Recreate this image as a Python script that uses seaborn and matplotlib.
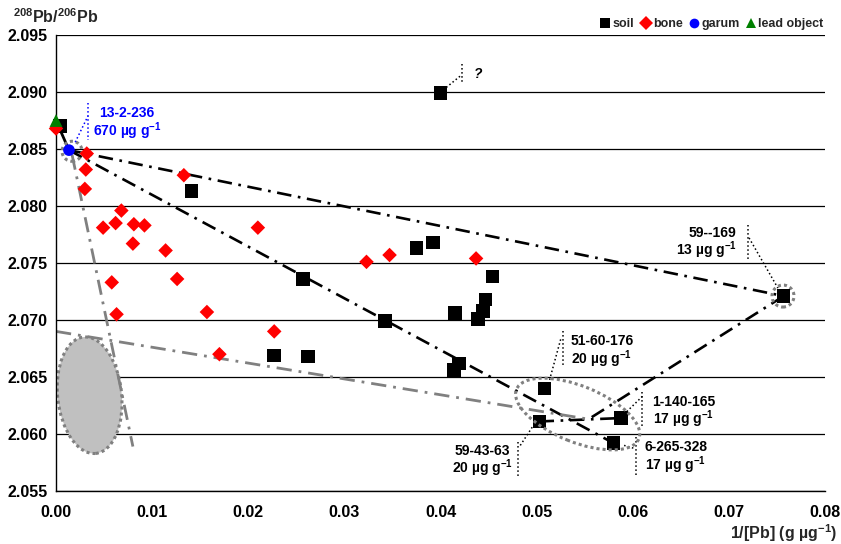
import numpy as np
import pandas as pd
import seaborn as sns
import matplotlib.pyplot as plt
from matplotlib.patches import Ellipse
from matplotlib.transforms import ScaledTranslation

# data
soil_x = [0.0004, 0.0400, 0.0141, 0.0257, 0.0227, 0.0262, 0.0342, 0.0375, 0.0392, 0.0415, 0.0454,
          0.0447, 0.0444, 0.0439, 0.0419, 0.0414, 0.0508, 0.0503, 0.0588, 0.0580, 0.0757]
soil_y = [2.0870, 2.0899, 2.0813, 2.0736, 2.0669, 2.0668, 2.0699, 2.0763, 2.0768, 2.0706, 2.0738,
          2.0718, 2.0708, 2.0701, 2.0662, 2.0656, 2.0640, 2.0611, 2.0614, 2.0592, 2.0721]
bone_x = [0.0000, 0.0032, 0.0031, 0.0030, 0.0133, 0.0068, 0.0049, 0.0062, 0.0081, 0.0092, 0.0080,
          0.0114, 0.0210, 0.0058, 0.0126, 0.0063, 0.0157, 0.0227, 0.0170, 0.0323, 0.0347, 0.0437]
bone_y = [2.0868, 2.0846, 2.0832, 2.0815, 2.0827, 2.0796, 2.0781, 2.0785, 2.0784, 2.0783, 2.0767,
          2.0761, 2.0781, 2.0733, 2.0736, 2.0705, 2.0707, 2.0690, 2.0670, 2.0751, 2.0757, 2.0754]
garum_x = [0.00135]
garum_y = [2.0849]
lead_x = [0.0000]
lead_y = [2.0875]

groups = ['soil', 'bone', 'garum', 'lead object']
colors = {'soil': 'black', 'bone': '#ff0000', 'garum': '#0000ff', 'lead object': '#008000'}
markers = {'soil': 's', 'bone': 'D', 'garum': 'o', 'lead object': '^'}
sizes = {'soil': 95, 'bone': 55, 'garum': 70, 'lead object': 85}

# sample labels
labels = ['13-2-236\n670 µg g$^{-1}$', '59--169\n13 µg g$^{-1}$', '51-60-176\n20 µg g$^{-1}$',
          '1-140-165\n17 µg g$^{-1}$', '6-265-328\n17 µg g$^{-1}$', '59-43-63\n20 µg g$^{-1}$', '?']
label_x = [0.0074, 0.0708, 0.0568, 0.0653, 0.0645, 0.0444, 0.0435]
label_y = [2.0872, 2.0767, 2.0672, 2.0619, 2.0579, 2.0576, 2.0916]
label_ha = ['center', 'right', 'center', 'center', 'center', 'center', 'left']
label_col = ['#0000ff'] + ['black'] * 6

# leader lines (dotted): vertical tick + slanted piece
lead_vx = [0.00333, 0.0720, 0.0527, 0.0610, 0.0603, 0.0481, 0.0422]
lead_vy0 = [2.0890, 2.0783, 2.0690, 2.0637, 2.0597, 2.0593, 2.0925]
lead_vy1 = [2.0858, 2.0753, 2.0659, 2.0605, 2.0564, 2.0562, 2.0909]
lead_dx0 = [0.0020, 0.0721, 0.0525, 0.0610, 0.0591, 0.0483, 0.0406]
lead_dy0 = [2.0856, 2.0772, 2.0683, 2.0633, 2.0590, 2.0590, 2.0904]
lead_dx1 = [0.00333, 0.0751, 0.0513, 0.0593, 0.0603, 0.0497, 0.0422]
lead_dy1 = [2.0879, 2.0728, 2.0646, 2.0619, 2.0587, 2.0608, 2.0915]

mix_x = 0.0554
mix_y = 2.0613

df = pd.concat([
    pd.DataFrame({'x': soil_x, 'y': soil_y, 'type': 'soil'}),
    pd.DataFrame({'x': bone_x, 'y': bone_y, 'type': 'bone'}),
    pd.DataFrame({'x': garum_x, 'y': garum_y, 'type': 'garum'}),
    pd.DataFrame({'x': lead_x, 'y': lead_y, 'type': 'lead object'}),
], ignore_index=True)

sns.set_theme(style='white')
plt.rcParams['font.family'] = ['Liberation Sans', 'DejaVu Sans']
plt.rcParams['font.weight'] = 'bold'
plt.rcParams['mathtext.fontset'] = 'custom'
plt.rcParams['mathtext.rm'] = 'Liberation Sans:bold'
plt.rcParams['mathtext.default'] = 'rm'

fig = plt.figure(figsize=(8.41, 5.44), dpi=100)
ax = fig.add_axes([56 / 841, 1 - 491 / 544, 769 / 841, 456 / 544])

dashdot = (0, (5.5, 2.5, 1, 2.5))
# mixing lines
ax.plot([lead_x[0], garum_x[0]], [lead_y[0], garum_y[0]], color='black', lw=2, zorder=2)
ax.plot([garum_x[0], soil_x[20]], [garum_y[0], soil_y[20]], color='black', lw=1.9, ls=dashdot, zorder=2)
ax.plot([garum_x[0], soil_x[19]], [garum_y[0], soil_y[19]], color='black', lw=1.9, ls=dashdot, zorder=2)
ax.plot([soil_x[20], mix_x], [soil_y[20], mix_y], color='black', lw=1.9, ls=dashdot, zorder=2)
ax.plot([soil_x[17], soil_x[18]], [soil_y[17], soil_y[18]], color='black', lw=1.9, ls=dashdot, zorder=2)
ax.plot([0.0, mix_x], [2.0690, mix_y], color='#808080', lw=2, ls=dashdot, zorder=2)
ax.plot([0.00167, 0.0080], [2.0845, 2.0589], color='#808080', lw=2, ls=dashdot, zorder=2)

# ellipses sized in inches, centred on data points
def add_ellipse(cx, cy, w, h, ang, **kw):
    tr = fig.dpi_scale_trans + ScaledTranslation(cx, cy, ax.transData)
    ax.add_patch(Ellipse((0, 0), w, h, angle=ang, transform=tr, **kw))

add_ellipse(0.0035, 2.0634, 0.64, 1.17, 6, facecolor='#c0c0c0', edgecolor='#808080',
            lw=2.2, ls=(0, (1, 1)), zorder=1)
add_ellipse(0.05427, 2.06175, 1.32, 0.56, -22, facecolor='none', edgecolor='#808080',
            lw=2.2, ls=(0, (1, 1)), zorder=4)
add_ellipse(0.00167, 2.0848, 0.2, 0.2, 0, facecolor='none', edgecolor='#808080',
            lw=2.2, ls=(0, (1, 1)), zorder=2)
add_ellipse(0.07563, 2.0721, 0.22, 0.22, 0, facecolor='none', edgecolor='#808080',
            lw=2.2, ls=(0, (1, 1)), zorder=2)

sns.scatterplot(data=df, x='x', y='y', hue='type', style='type', size='type',
                hue_order=groups, style_order=groups, size_order=groups,
                palette=colors, markers=markers, sizes=sizes, linewidth=0,
                clip_on=False, zorder=3, ax=ax)

for i in range(len(labels)):
    c = label_col[i]
    ax.plot([lead_vx[i], lead_vx[i]], [lead_vy0[i], lead_vy1[i]], color=c, lw=1.1, ls=':', zorder=2)
    ax.plot([lead_dx0[i], lead_dx1[i]], [lead_dy0[i], lead_dy1[i]], color=c, lw=1.1, ls=':', zorder=2)
    ax.text(label_x[i], label_y[i], labels[i], color=c, ha=label_ha[i], va='center',
            multialignment=label_ha[i], fontsize=10, linespacing=1.0,
            style='italic' if labels[i] == '?' else 'normal')

ax.set_xlim(0, 0.08)
ax.set_ylim(2.055, 2.095)
ax.set_xticks(np.arange(0, 0.0801, 0.01))
ax.set_yticks(np.arange(2.055, 2.0951, 0.005))
ax.xaxis.set_major_formatter(plt.FormatStrFormatter('%.2f'))
ax.yaxis.set_major_formatter(plt.FormatStrFormatter('%.3f'))
ax.yaxis.grid(True, color='black', lw=0.9)
ax.set_axisbelow(True)
sns.despine(ax=ax)
for s in ['left', 'bottom']:
    ax.spines[s].set_color('black')
    ax.spines[s].set_linewidth(1)
ax.tick_params(direction='out', length=4, width=1, colors='black', labelsize=11.5, pad=2)
ax.tick_params(axis='x', pad=6)
ax.set_xlabel('')
ax.set_ylabel('')

fig.text(13 / 841, 1 - 17 / 544, r'$^{208}$Pb/$^{206}$Pb', fontsize=11.5, ha='left', va='center')
fig.text(837 / 841, 1 - 533 / 544, r'1/[Pb] (g µg$^{-1}$)', fontsize=11.5, ha='right', va='center')

sns.move_legend(ax, 'center right', bbox_to_anchor=(0.998, 1.024), ncol=4, title=None,
                frameon=False, fontsize=9, handlelength=0.7, handletextpad=0.2,
                columnspacing=0.6, borderaxespad=0, borderpad=0)
leg = ax.get_legend()
for h in leg.legend_handles:
    if hasattr(h, 'set_markersize'):
        h.set_markersize(7)
    else:
        h.set_sizes([45])

fig.savefig('out.png', dpi=100)
